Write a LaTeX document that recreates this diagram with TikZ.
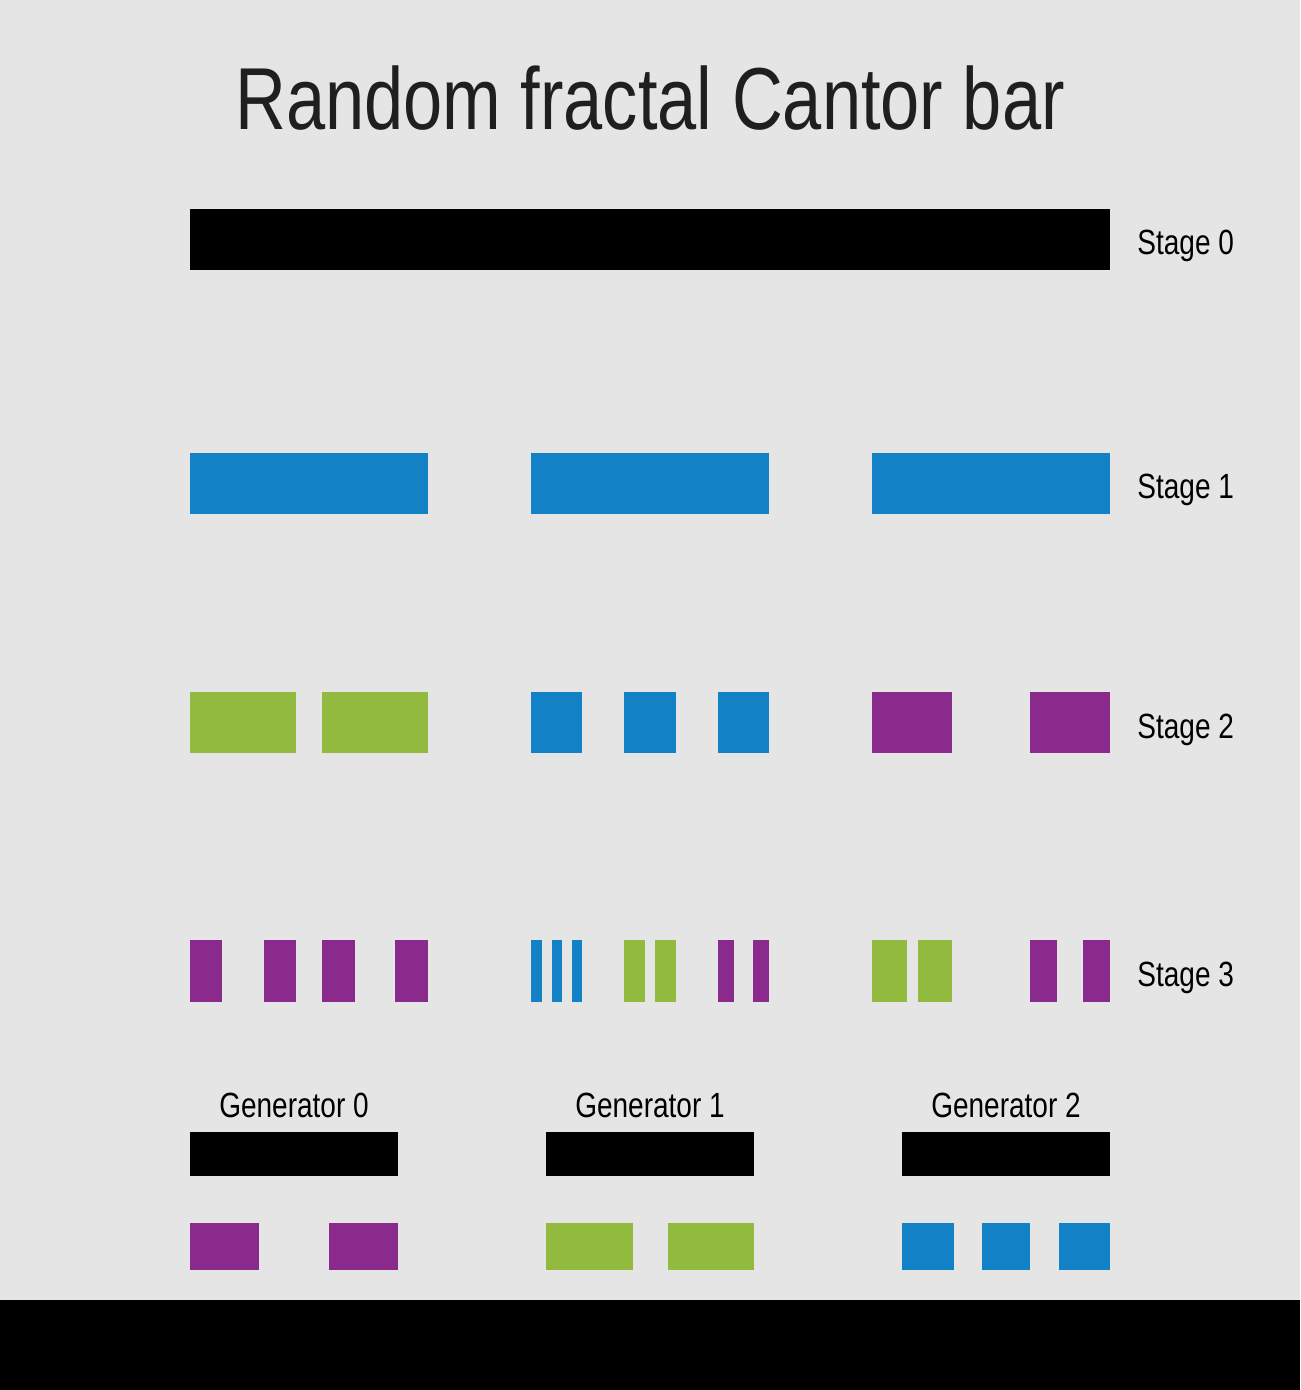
\documentclass[tikz,border=0pt]{standalone}
\usepackage{fontspec}
\setmainfont{Liberation Sans}[FakeStretch=0.8]
\usepackage{xcolor}
\definecolor{bgGrey}{RGB}{229,229,229}
\definecolor{barBlue}{RGB}{18,129,197}
\definecolor{barGreen}{RGB}{146,186,62}
\definecolor{barPurple}{RGB}{137,42,140}

\begin{document}
\begin{tikzpicture}[x=0.5pt,y=-0.5pt,
    stagelabel/.style={anchor=base west,inner sep=0pt,font=\fontsize{17.5}{20}\selectfont},
    genlabel/.style={anchor=base,inner sep=0pt,font=\fontsize{17.5}{20}\selectfont}]
    % Background and bottom strip
    \fill[bgGrey] (0,0) rectangle (1300,1390);
    \useasboundingbox (0,0) rectangle (1300,1390);
    \fill[black] (0,1300) rectangle (1300,1390);

    % Title
    \node[anchor=base,inner sep=0pt,font=\fontsize{44}{50}\selectfont,text=black!88] (title) at (650,130) {Random fractal Cantor bar};

    % Stage 0
    \fill[black] (190,209) rectangle (1110,270);
    \node[stagelabel] (stage0) at (1137,255) {Stage 0};

    % Stage 1
    \foreach \a/\b in {190/428,531/769,872/1110}
      \fill[barBlue] (\a,453) rectangle (\b,514);
    \node[stagelabel] (stage1) at (1137,498) {Stage 1};

    % Stage 2
    \foreach \a/\b/\c in {190/296/barGreen,322/428/barGreen,531/582/barBlue,624/676/barBlue,718/769/barBlue,872/952/barPurple,1030/1110/barPurple}
      \fill[\c] (\a,692) rectangle (\b,753);
    \node[stagelabel] (stage2) at (1137,738) {Stage 2};

    % Stage 3
    \foreach \a/\b/\c in {190/222/barPurple,264/296/barPurple,322/355/barPurple,395/428/barPurple,
                          531/542/barBlue,552/562/barBlue,572/582/barBlue,
                          624/645/barGreen,655/676/barGreen,718/734/barPurple,753/769/barPurple,
                          872/907/barGreen,918/952/barGreen,1030/1057/barPurple,1083/1110/barPurple}
      \fill[\c] (\a,940) rectangle (\b,1002);
    \node[stagelabel] (stage3) at (1137,986) {Stage 3};

    % Generators
    \foreach \n/\a/\b in {0/190/398,1/546/754,2/902/1110}{
      \fill[black] (\a,1132) rectangle (\b,1176);
      \node[genlabel] (gen\n) at ({(\a+\b)/2},1117) {Generator \n};
    }
    \foreach \a/\b/\c in {190/259/barPurple,329/398/barPurple,546/633/barGreen,668/754/barGreen,
                          902/954/barBlue,982/1030/barBlue,1059/1110/barBlue}
      \fill[\c] (\a,1223) rectangle (\b,1270);
  \end{tikzpicture}
\end{document}
